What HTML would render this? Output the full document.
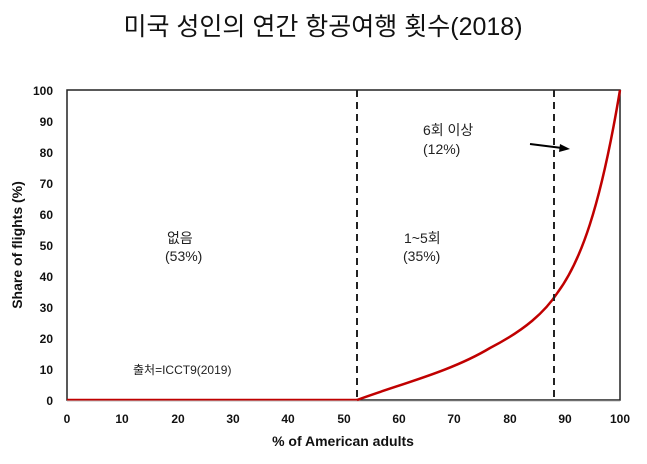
<!DOCTYPE html>
<html><head><meta charset="utf-8"><style>
body{margin:0;background:#fff;}
svg{display:block;}
text{font-family:"Liberation Sans","Noto Sans CJK KR",sans-serif;}
</style></head><body>
<svg width="647" height="464" viewBox="0 0 647 464">
<text x="323" y="35" font-size="25" text-anchor="middle" fill="#111">미국 성인의 연간 항공여행 횟수(2018)</text>
<rect x="67" y="90" width="553" height="310" fill="none" stroke="#222" stroke-width="1.5"/>
<line x1="67" y1="400" x2="357" y2="400" stroke="#c00000" stroke-width="2.5"/>
<line x1="67" y1="401" x2="620" y2="401" stroke="#bbb" stroke-width="1"/>
<path d="M357,400 C400,384 450,372 490,348 C525,330 545,312 558,292 C580,262 600,210 620,90" fill="none" stroke="#c00000" stroke-width="2.5"/>
<line x1="357" y1="90" x2="357" y2="400" stroke="#222" stroke-width="2" stroke-dasharray="7,5"/>
<line x1="554" y1="90" x2="554" y2="400" stroke="#222" stroke-width="2" stroke-dasharray="7,5"/>
<line x1="530" y1="144" x2="562" y2="148" stroke="#000" stroke-width="2"/>
<polygon points="570,149 560,144 559,152" fill="#000"/>
<g font-size="12" font-weight="bold" fill="#111" text-anchor="end">
<text x="53" y="95">100</text><text x="53" y="126">90</text><text x="53" y="157">80</text><text x="53" y="188">70</text><text x="53" y="219">60</text><text x="53" y="250">50</text><text x="53" y="281">40</text><text x="53" y="312">30</text><text x="53" y="343">20</text><text x="53" y="374">10</text><text x="53" y="405">0</text>
</g>
<g font-size="12" font-weight="bold" fill="#111" text-anchor="middle">
<text x="67" y="423">0</text><text x="122" y="423">10</text><text x="178" y="423">20</text><text x="233" y="423">30</text><text x="288" y="423">40</text><text x="344" y="423">50</text><text x="399" y="423">60</text><text x="454" y="423">70</text><text x="510" y="423">80</text><text x="565" y="423">90</text><text x="620" y="423">100</text>
</g>
<text x="343" y="446" font-size="14" font-weight="bold" text-anchor="middle" fill="#111">% of American adults</text>
<text transform="translate(22,245) rotate(-90)" font-size="14" font-weight="bold" text-anchor="middle" fill="#111">Share of flights (%)</text>
<g font-size="14" fill="#222">
<text x="167" y="243">없음</text><text x="165" y="261">(53%)</text>
<text x="404" y="243">1~5회</text><text x="403" y="261">(35%)</text>
<text x="423" y="135">6회 이상</text><text x="423" y="154">(12%)</text>
</g>
<text x="133" y="374" font-size="12" fill="#222">출처=ICCT9(2019)</text>
</svg>
</body></html>
